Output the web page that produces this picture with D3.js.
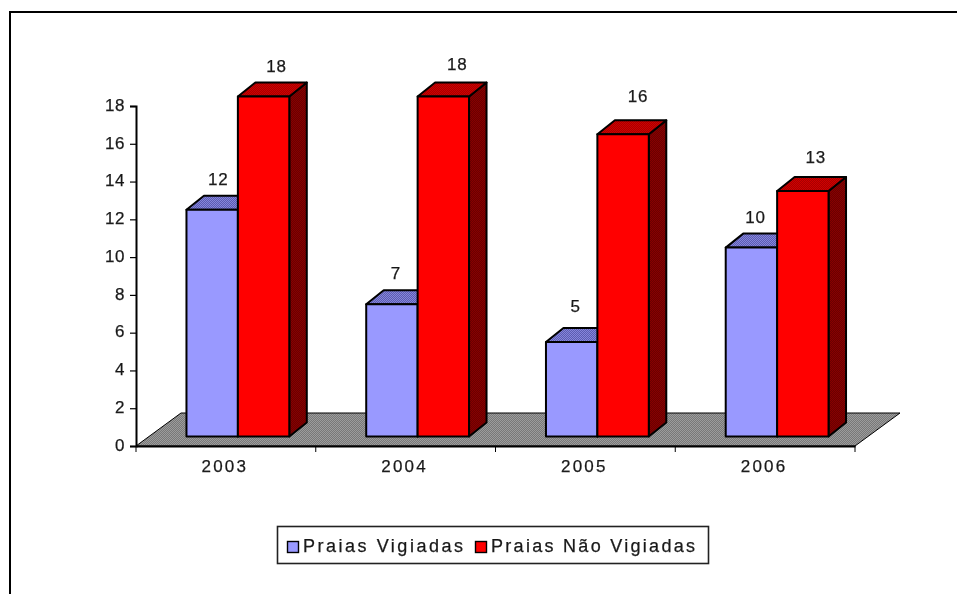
<!DOCTYPE html>
<html>
<head>
<meta charset="utf-8">
<script src="https://cdn.jsdelivr.net/npm/d3@7"></script>
<style>
html, body { margin: 0; padding: 0; background: #fff; overflow: hidden; }
text { font-family: "Liberation Sans", Arial, sans-serif; fill: #1a1a1a; stroke: #1a1a1a; stroke-width: 0.25px; }
</style>
</head>
<body>
<div id="plot"></div>
<script>
let years = ['2003', '2004', '2005', '2006'];
let seriesNames = ['Praias Vigiadas', 'Praias Não Vigiadas'];
let vigiadas = [12, 7, 5, 10];
let naoVigiadas = [18, 18, 16, 13];
let yTicks = [0, 2, 4, 6, 8, 10, 12, 14, 16, 18];

let svgWidth = 957;
let svgHeight = 594;
let margin = { top: 106, right: 102, bottom: 148, left: 136 };
let width = svgWidth - margin.left - margin.right;
let height = svgHeight - margin.top - margin.bottom;

// 3d offsets of the floor and of the bars
let floorDx = 45;
let floorDy = 33;
let baseDx = 12.5;
let baseDy = 9.5;
let barDx = 17.5;
let barDy = 14;

let svg = d3.select('#plot')
    .append('svg')
    .attr('width', svgWidth)
    .attr('height', svgHeight)
    .style('display', 'block');

function dither(id, a, b) {
    let p = svg.append('defs').append('pattern')
        .attr('id', id)
        .attr('width', 2)
        .attr('height', 2)
        .attr('patternUnits', 'userSpaceOnUse');
    p.append('rect').attr('width', 2).attr('height', 2).attr('fill', a);
    p.append('rect').attr('width', 1).attr('height', 1).attr('fill', b);
    p.append('rect').attr('x', 1).attr('y', 1).attr('width', 1).attr('height', 1).attr('fill', b);
}
dither('floorFill', '#787878', '#9c9c9c');
dither('blueTop', '#5c5cb0', '#8585dc');
dither('redTop', '#a80000', '#d00000');
dither('redSide', '#6a0000', '#880000');

let soft = svg.append('defs').append('filter').attr('id', 'soft');
soft.append('feGaussianBlur').attr('stdDeviation', 0.4);

// outer frame, only left and top are in the picture
svg.append('path')
    .attr('d', 'M10,600V12H960')
    .attr('fill', 'none')
    .attr('stroke', '#000')
    .attr('stroke-width', 2);

let chart = svg.append('g')
    .attr('transform', `translate(${margin.left},${margin.top})`);

let x = d3.scaleBand()
    .domain(years)
    .range([0, width]);

let xInner = d3.scaleBand()
    .domain(seriesNames)
    .range([x.bandwidth() * 0.214, x.bandwidth() * 0.786]);

let y = d3.scaleLinear()
    .domain([0, 18])
    .range([height, 0]);

// floor
chart.append('path')
    .attr('d', `M0,${height}L${floorDx},${height - floorDy}H${width + floorDx}L${width},${height}Z`)
    .attr('fill', 'url(#floorFill)')
    .attr('stroke', '#000')
    .attr('stroke-width', 1);

// small hand corrections for the value labels, same order as rows
let labelNudgeY = [0, 0, 0, -2, -5, -7, 0, -3];
let labelNudgeX = [2, 0, 0, 1, 0, 2, 0, 0];

let rows = [];
years.forEach(function (year, i) {
    rows.push({ year: year, name: seriesNames[0], value: vigiadas[i], top: 'url(#blueTop)', side: 'url(#redSide)', front: '#9999ff', labelDx: 4 });
    rows.push({ year: year, name: seriesNames[1], value: naoVigiadas[i], top: 'url(#redTop)', side: 'url(#redSide)', front: '#ff0000', labelDx: 13 });
});

let bars = chart.selectAll('.bar')
    .data(rows)
    .enter()
    .append('g')
    .attr('class', 'bar')
    .attr('stroke', '#000')
    .attr('stroke-width', 2)
    .attr('stroke-linejoin', 'round');

function barLeft(d) { return x(d.year) + xInner(d.name) + baseDx - 0.5; }
function barRight(d) { return barLeft(d) + xInner.bandwidth(); }
function barTop(d) { return y(d.value) - baseDy; }
function barBase() { return y(0) - baseDy; }

bars.append('path')
    .attr('fill', d => d.side)
    .attr('d', d => `M${barRight(d)},${barTop(d)}l${barDx},${-barDy}V${barBase() - barDy}L${barRight(d)},${barBase()}Z`);

bars.append('path')
    .attr('fill', d => d.top)
    .attr('d', d => `M${barLeft(d)},${barTop(d)}l${barDx},${-barDy}H${barRight(d) + barDx}L${barRight(d)},${barTop(d)}Z`);

bars.append('rect')
    .attr('fill', d => d.front)
    .attr('x', d => barLeft(d))
    .attr('y', d => barTop(d))
    .attr('width', xInner.bandwidth())
    .attr('height', d => barBase() - barTop(d));

// value labels
chart.selectAll('.value')
    .data(rows)
    .enter()
    .append('text')
    .attr('class', 'value')
    .attr('x', (d, i) => barLeft(d) + xInner.bandwidth() / 2 + d.labelDx + labelNudgeX[i])
    .attr('y', (d, i) => barTop(d) - 31 + labelNudgeY[i])
    .attr('dy', '0.36em')
    .attr('text-anchor', 'middle')
    .attr('font-size', 17)
    .attr('letter-spacing', 0.8)
    .attr('filter', 'url(#soft)')
    .text(d => d.value);

// axes
let yAxis = d3.axisLeft(y).tickValues(yTicks).tickSize(6).tickPadding(5);
let yG = chart.append('g').call(yAxis);
yG.selectAll('text')
    .attr('font-size', 17)
    .attr('dy', '0.25em')
    .attr('letter-spacing', 0.6)
    .attr('filter', 'url(#soft)');

let xAxis = d3.axisBottom(x).tickSize(0).tickPadding(14);
let xG = chart.append('g')
    .attr('transform', `translate(0,${height})`)
    .call(xAxis);
xG.selectAll('text')
    .attr('font-size', 17)
    .attr('letter-spacing', 2.2)
    .attr('dx', -1)
    .attr('filter', 'url(#soft)');

// ticks sit between the categories
xG.selectAll('.between')
    .data(d3.range(years.length + 1))
    .enter()
    .append('line')
    .attr('class', 'between')
    .attr('x1', i => i * x.step())
    .attr('x2', i => i * x.step())
    .attr('y1', 0)
    .attr('y2', 6)
    .attr('stroke', '#000');

chart.selectAll('.domain').attr('stroke', '#000').attr('stroke-width', 2);
chart.selectAll('.tick line').attr('stroke', '#000').attr('stroke-width', 1.2);
chart.selectAll('text').style('font-family', '"Liberation Sans", Arial, sans-serif');

// legend
let legend = svg.append('g');
legend.append('rect')
    .attr('x', 277.5)
    .attr('y', 526.5)
    .attr('width', 431)
    .attr('height', 37)
    .attr('fill', '#fff')
    .attr('stroke', '#222')
    .attr('stroke-width', 1.6);

let legendX = d3.scaleOrdinal().domain(seriesNames).range([287, 475]);
let legendColor = d3.scaleOrdinal().domain(seriesNames).range(['#9999ff', '#ff0000']);
let legendText = d3.scaleOrdinal().domain(seriesNames).range([160, 204]);

legend.selectAll('.swatch')
    .data(seriesNames)
    .enter()
    .append('rect')
    .attr('class', 'swatch')
    .attr('x', d => legendX(d) + 0.5)
    .attr('y', 541.5)
    .attr('width', 11)
    .attr('height', 11)
    .attr('fill', d => legendColor(d))
    .attr('stroke', '#000')
    .attr('stroke-width', 1.4);

legend.selectAll('.label')
    .data(seriesNames)
    .enter()
    .append('text')
    .attr('class', 'label')
    .attr('x', d => legendX(d) + 16)
    .attr('y', 552)
    .attr('font-size', 18)
    .attr('textLength', d => legendText(d))
    .attr('lengthAdjust', 'spacing')
    .attr('filter', 'url(#soft)')
    .text(d => d);
</script>
</body>
</html>
